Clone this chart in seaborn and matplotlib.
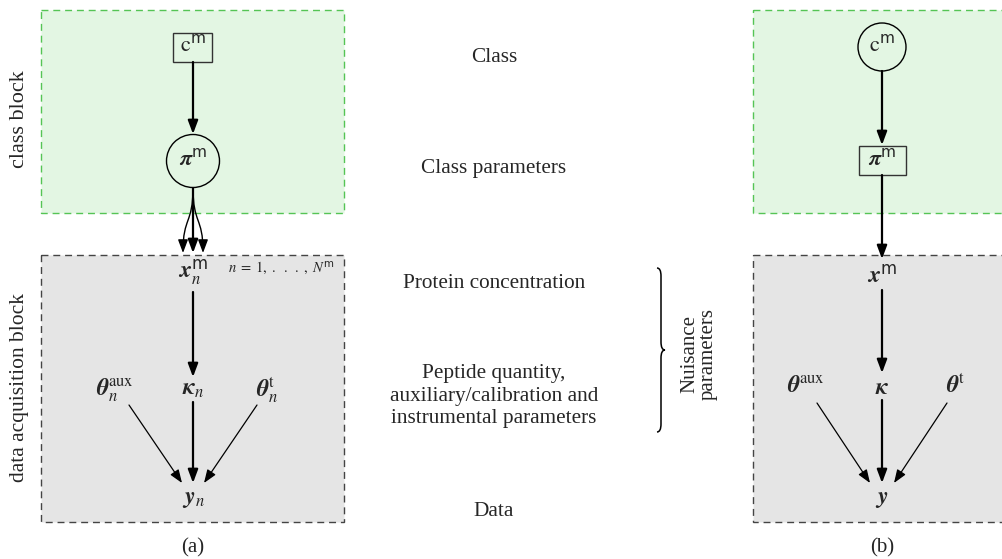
import matplotlib
matplotlib.use("Agg")
import matplotlib.pyplot as plt
import seaborn as sns
from matplotlib.patches import Rectangle, Circle, FancyArrowPatch, PathPatch
from matplotlib.path import Path

sns.set_style("white")
plt.rcParams["font.family"] = ["Liberation Serif", "DejaVu Serif"]
plt.rcParams["mathtext.fontset"] = "custom"
plt.rcParams["mathtext.rm"] = "STIXGeneral"
plt.rcParams["mathtext.it"] = "STIXGeneral:italic"
plt.rcParams["mathtext.bf"] = "STIXGeneral:bold"
plt.rcParams["mathtext.bfit"] = "STIXGeneral:italic:bold"
plt.rcParams["mathtext.sf"] = "DejaVu Sans"

# Node labels of the two graphical models
nodes_a = [r"$\mathrm{c}^{\mathsf{m}}$", r"$\mathbfit{\pi}^{\mathsf{m}}$",
           r"$\mathbfit{x}_{n}^{\mathsf{m}}$", r"$\mathbfit{\kappa}_{n}$",
           r"$\mathbfit{\theta}_{n}^{\mathrm{aux}}$", r"$\mathbfit{\theta}_{n}^{\mathrm{t}}$",
           r"$\mathbfit{y}_{n}$"]
nodes_b = [r"$\mathrm{c}^{\mathsf{m}}$", r"$\mathbfit{\pi}^{\mathsf{m}}$",
           r"$\mathbfit{x}^{\mathsf{m}}$", r"$\mathbfit{\kappa}$",
           r"$\mathbfit{\theta}^{\mathrm{aux}}$", r"$\mathbfit{\theta}^{\mathrm{t}}$",
           r"$\mathbfit{y}$"]
plate_label = r"$n\;=\;1,\;.\;\;.\;\;.\;,\;N^{\mathsf{m}}$"
level_labels = ["Class", "Class parameters", "Protein concentration",
                "Peptide quantity,\nauxiliary/calibration and\ninstrumental parameters",
                "Data"]
block_labels = ["class block", "data acquisition block"]
group_label = "Nuisance\nparameters"
panel_labels = ["(a)", "(b)"]

fig = plt.figure(figsize=(10.02, 5.59), dpi=100)
ax = fig.add_axes([0, 0, 1, 1])
ax.set_xlim(0, 1002)
ax.set_ylim(559, 0)
ax.axis("off")

green_fill, green_edge = "#e3f6e3", "#55c455"
gray_fill, gray_edge = "#e5e5e5", "#444444"
HEAD = "-|>,head_length=0.8,head_width=0.3"


def block(x0, y0, w, h, fc, ec):
    ax.add_patch(Rectangle((x0, y0), w, h, facecolor=fc, edgecolor=ec,
                           lw=1.0, linestyle=(0, (5, 3.5)), zorder=1))


def arrow(p0, p1, lw=1.6):
    ax.add_patch(FancyArrowPatch(p0, p1, arrowstyle=HEAD, mutation_scale=10,
                                 lw=lw, color="black", shrinkA=0, shrinkB=0, zorder=3))


def curved_arrow(p0, p1, lw=1.0):
    (x0, y0), (x1, y1) = p0, p1
    path = Path([(x0, y0), (x0, y0 + 0.55 * (y1 - y0)), (x1, y0 + 0.45 * (y1 - y0)), (x1, y1)],
                [Path.MOVETO, Path.CURVE4, Path.CURVE4, Path.CURVE4])
    ax.add_patch(FancyArrowPatch(path=path, arrowstyle=HEAD, mutation_scale=10,
                                 lw=lw, color="black", zorder=3))


def label(x, y, s, size=17, **kw):
    ax.text(x, y, s, ha="center", va="center", fontsize=size, zorder=4, **kw)


# ---------- panel (a) ----------
cx = 193
block(41, 10, 303, 203, green_fill, green_edge)
block(41, 255, 303, 267, gray_fill, gray_edge)

ax.add_patch(Rectangle((173, 33), 39, 29, facecolor="none", edgecolor="#333333", lw=1.0, zorder=3))
label(cx, 46, nodes_a[0], size=16)
arrow((cx, 62), (cx, 134))
ax.add_patch(Circle((cx, 161), 26.5, facecolor="none", edgecolor="black", lw=1.0, zorder=3))
label(cx, 160, nodes_a[1], size=16)

arrow((cx, 188), (cx, 253))
curved_arrow((cx, 188), (183, 253))
curved_arrow((cx, 188), (203, 253))

label(cx, 272, nodes_a[2])
ax.text(228, 268, plate_label, ha="left", va="center", fontsize=10.5, zorder=4)
arrow((cx, 292), (cx, 377))
label(115, 390, nodes_a[4])
label(cx, 390, nodes_a[3])
label(267, 390, nodes_a[5])
arrow((cx, 402), (cx, 483))
arrow((129, 405), (182, 483), lw=0.9)
arrow((257, 405), (204, 483), lw=0.9)
label(cx, 500, nodes_a[6])
label(cx, 548, panel_labels[0], size=15)

ax.text(20, 119, block_labels[0], rotation=90, ha="center", va="center", fontsize=16)
ax.text(20, 388, block_labels[1], rotation=90, ha="center", va="center", fontsize=15.5)

# ---------- middle descriptions ----------
for y, s in zip([57, 169, 284, 396, 511], level_labels):
    ax.text(494, y, s, ha="center", va="center", fontsize=15.3, linespacing=1.28)

# curly brace
bx, top, bot = 657, 268, 432
mid = (top + bot) / 2
tip = 8
codes = [Path.MOVETO,
         Path.CURVE3, Path.CURVE3,
         Path.LINETO,
         Path.CURVE3, Path.CURVE3,
         Path.CURVE3, Path.CURVE3,
         Path.LINETO,
         Path.CURVE3, Path.CURVE3]
verts = [(bx, top),
         (bx + 4, top), (bx + 4, top + 8),
         (bx + 4, mid - 8),
         (bx + 4, mid), (bx + tip, mid),
         (bx + 4, mid), (bx + 4, mid + 8),
         (bx + 4, bot - 8),
         (bx + 4, bot), (bx, bot)]
ax.add_patch(PathPatch(Path(verts, codes), facecolor="none", edgecolor="black", lw=1.1))
ax.text(699, 354, group_label, rotation=90, ha="center", va="center", fontsize=15,
        linespacing=0.95)

# ---------- panel (b) ----------
cx = 882
block(753, 10, 300, 203, green_fill, green_edge)
block(753, 255, 300, 267, gray_fill, gray_edge)

ax.add_patch(Circle((cx, 47), 24, facecolor="none", edgecolor="black", lw=1.0, zorder=3))
label(cx, 46, nodes_b[0], size=16)
arrow((cx, 71), (cx, 145))
ax.add_patch(Rectangle((859, 146), 47, 29, facecolor="none", edgecolor="#333333", lw=1.0, zorder=3))
label(cx, 160, nodes_b[1], size=16)
arrow((cx, 175), (cx, 259))

label(cx, 276, nodes_b[2])
arrow((cx, 290), (cx, 373))
label(806, 386, nodes_b[4])
label(cx, 388, nodes_b[3])
label(955, 386, nodes_b[5])
arrow((cx, 400), (cx, 483))
arrow((817, 403), (870, 483), lw=0.9)
arrow((947, 403), (894, 483), lw=0.9)
label(cx, 500, nodes_b[6])
label(cx, 548, panel_labels[1], size=15)

fig.savefig("out.png", dpi=100)
